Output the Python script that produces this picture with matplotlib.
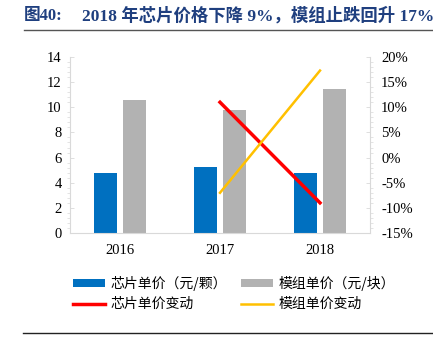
import numpy as np
import matplotlib.pyplot as plt
from matplotlib.ticker import MultipleLocator, FuncFormatter

plt.rcParams['font.family'] = ['Liberation Serif', 'Noto Sans CJK SC', 'DejaVu Sans']

years = ['2016', '2017', '2018']
chip_price = [4.75, 5.25, 4.8]
module_price = [10.6, 9.8, 11.45]
chip_chg_years = ['2017', '2018']
chip_chg = [11.0, -9.0]
module_chg = [-7.0, 17.3]

blue = '#0070C0'
gray = '#B2B2B2'
red = '#FF0000'
orange = '#FFC000'

fig = plt.figure(figsize=(4.33, 3.56), dpi=100)
ax = fig.add_axes([0.1617, 0.3455, 0.6928, 0.4944])

x = np.arange(len(years))
w = 0.23
ax.bar(x - 0.145, chip_price, w, color=blue, label='芯片单价（元/颗）')
ax.bar(x + 0.145, module_price, w, color=gray, label='模组单价（元/块）')
ax.set_xlim(-0.5, 2.5)
ax.set_ylim(0, 14)
ax.yaxis.set_major_locator(MultipleLocator(2))
ax.yaxis.set_minor_locator(MultipleLocator(0.4))
ax.set_xticks(x)
ax.set_xticklabels(years)

ax2 = ax.twinx()
xc = [years.index(y) for y in chip_chg_years]
ax2.plot(xc, chip_chg, color=red, lw=2.5, label='芯片单价变动')
ax2.plot(xc, module_chg, color=orange, lw=1.8, label='模组单价变动')
ax2.set_ylim(-15, 20)
ax2.yaxis.set_major_locator(MultipleLocator(5))
ax2.yaxis.set_minor_locator(MultipleLocator(1))
ax2.yaxis.set_major_formatter(FuncFormatter(lambda v, p: f'{v:.0f}%'))

for a in (ax, ax2):
    for s in a.spines.values():
        s.set_visible(False)
    a.tick_params(labelsize=10.5, colors='#D9D9D9', labelcolor='black', length=3, width=0.6)
    a.tick_params(which='minor', colors='#D9D9D9', length=2, width=0.5)
ax.spines['left'].set_visible(True)
ax.spines['left'].set_color('#D9D9D9')
ax.spines['bottom'].set_visible(True)
ax.spines['bottom'].set_color('#D9D9D9')
ax2.spines['right'].set_visible(True)
ax2.spines['right'].set_color('#D9D9D9')
ax.tick_params(axis='x', length=0, pad=8)
ax.tick_params(axis='y', direction='in', pad=6)
ax2.tick_params(axis='y', direction='in', pad=8)

h1, l1 = ax.get_legend_handles_labels()
h2, l2 = ax2.get_legend_handles_labels()
handles = [h1[0], h2[0], h1[1], h2[1]]
labels = [l1[0], l2[0], l1[1], l2[1]]
fig.legend(handles, labels, ncol=2, loc='upper left', bbox_to_anchor=(0.14, 0.26),
           frameon=False, prop={'family': ['Noto Sans CJK SC'], 'size': 10},
           handlelength=2.3, handleheight=0.5, columnspacing=1.0, labelspacing=0.45,
           handletextpad=0.4)

fig.text(0.055, 0.955, '图40:', fontsize=12, fontweight='bold', color='#1F3F7F',
         family=['Liberation Serif', 'Noto Sans CJK SC'], va='center')
fig.text(0.19, 0.955, '2018 年芯片价格下降 9%，模组止跌回升 17%', fontsize=12.5,
         fontweight='bold', color='#1F3F7F',
         family=['Liberation Serif', 'Noto Sans CJK SC'], va='center')
fig.add_artist(plt.Line2D([0.055, 1.0], [0.917, 0.917], color='#555555', lw=1.0))
fig.add_artist(plt.Line2D([0.053, 1.0], [0.065, 0.065], color='#222222', lw=1.0))

fig.savefig('out.png', dpi=100)
